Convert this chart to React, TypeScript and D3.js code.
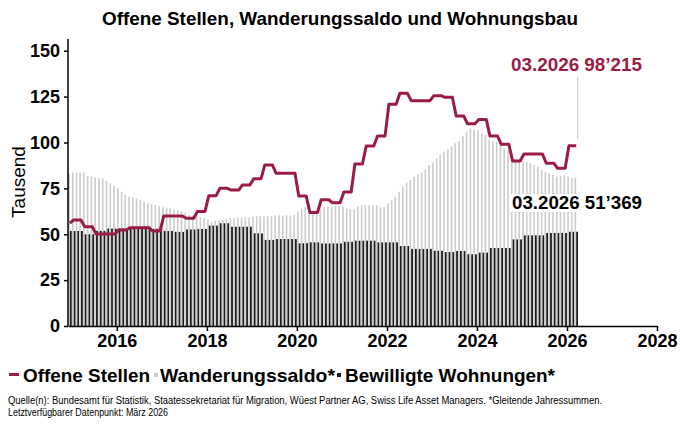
import React, { useEffect, useRef } from 'react';
import * as d3 from 'd3';

// Monatswerte ab Dezember 2014 bis März 2026 (gleitende Jahressummen, in Tausend)
const months = d3.timeMonth.range(new Date(2014, 11, 1), new Date(2026, 3, 1));

const wanderungssaldo = [
    82.8, // Dez 2014
    83.6, 83.7, 83.6, 83.7, 81.7, 81.4, 80.8, 80.6, 80.4, 79.0, 77.7, 76.3, // 2015
    75.0, 73.2, 71.4, 70.5, 70.1, 69.6, 68.7, 67.8, 66.9, 66.3, 66.0, 65.4, // 2016
    64.7, 64.3, 64.1, 63.6, 63.2, 62.7, 61.8, 60.5, 60.0, 59.6, 59.4, 58.9, // 2017
    58.0, 56.9, 57.4, 57.4, 57.7, 58.1, 58.7, 58.7, 59.2, 59.0, 59.2, 59.0, // 2018
    59.6, 59.9, 59.9, 59.6, 59.9, 59.9, 60.3, 60.3, 60.1, 60.3, 60.1, 60.5, // 2019
    62.3, 64.1, 64.7, 62.9, 62.3, 63.2, 63.8, 64.7, 65.0, 65.0, 65.4, 65.4, // 2020
    65.1, 64.2, 63.6, 63.6, 65.4, 65.9, 65.9, 65.8, 65.8, 65.8, 64.7, 64.7, // 2021
    66.8, 68.6, 70.4, 73.2, 75.9, 78.1, 79.6, 81.4, 82.8, 83.6, 85.4, 87.8, // 2022
    89.1, 91.4, 93.2, 95.1, 96.3, 97.8, 99.6, 100.8, 103.6, 105.9, 107.7, 107.2, // 2023
    106.8, 105.0, 104.1, 101.4, 100.8, 100.4, 98.6, 96.8, 95.9, 93.2, 90.8, 90.5, // 2024
    90.1, 89.6, 88.6, 87.7, 86.8, 85.0, 84.1, 83.2, 82.3, 81.4, 81.7, 82.3, // 2025
    81.4, 80.8, 80.8, // 2026
];

const bewilligteWohnungen = [
    51.8,
    51.8, 51.8, 51.8, 50.0, 50.0, 50.0, 51.9, 51.9, 51.9, 53.1, 53.1, 53.1,
    53.3, 53.3, 53.3, 54.1, 54.1, 54.1, 54.1, 54.1, 54.1, 53.0, 53.0, 53.0,
    51.8, 51.8, 51.8, 51.3, 51.3, 51.3, 52.6, 52.6, 52.6, 52.9, 52.9, 52.9,
    54.7, 54.7, 54.7, 56.0, 56.0, 56.0, 54.1, 54.1, 54.1, 54.1, 54.1, 54.1,
    50.5, 50.5, 50.5, 46.9, 46.9, 46.9, 47.4, 47.4, 47.4, 47.4, 47.4, 47.4,
    45.1, 45.1, 45.1, 45.6, 45.6, 45.6, 45.0, 45.0, 45.0, 45.0, 45.0, 45.0,
    45.9, 45.9, 45.9, 46.5, 46.5, 46.5, 46.5, 46.5, 46.5, 45.6, 45.6, 45.6,
    45.6, 45.6, 45.6, 43.6, 43.6, 43.6, 42.0, 42.0, 42.0, 42.0, 42.0, 42.0,
    41.0, 41.0, 41.0, 40.3, 40.3, 40.3, 40.9, 40.9, 40.9, 39.1, 39.1, 39.1,
    40.0, 40.0, 40.0, 42.5, 42.5, 42.5, 42.5, 42.5, 42.5, 47.2, 47.2, 47.2,
    49.4, 49.4, 49.4, 49.4, 49.4, 49.4, 50.7, 50.7, 50.7, 50.7, 50.7, 50.7,
    51.369, 51.369, 51.369,
];

const offeneStellen = [
    56.0,
    57.8, 57.8, 57.8, 54.1, 54.1, 54.1, 50.1, 50.1, 50.1, 50.1, 50.1, 50.1,
    52.3, 52.3, 52.3, 53.6, 53.6, 53.6, 53.6, 53.6, 53.6, 51.8, 51.8, 51.8,
    60.0, 60.0, 60.0, 60.0, 60.0, 60.0, 58.7, 58.7, 58.7, 62.4, 62.4, 62.4,
    71.0, 71.0, 71.0, 75.0, 75.0, 75.0, 74.1, 74.1, 74.1, 76.9, 76.9, 76.9,
    80.3, 80.3, 80.3, 87.8, 87.8, 87.8, 83.2, 83.2, 83.2, 83.2, 83.2, 83.2,
    70.9, 70.9, 70.9, 61.8, 61.8, 61.8, 68.8, 68.8, 68.8, 67.1, 67.1, 67.1,
    73.0, 73.0, 73.0, 88.3, 88.3, 88.3, 98.1, 98.1, 98.1, 103.5, 103.5, 103.5,
    120.8, 120.8, 120.8, 126.8, 126.8, 126.8, 122.8, 122.8, 122.8, 122.8, 122.8, 122.8,
    125.5, 125.5, 125.5, 124.6, 124.6, 124.6, 114.4, 114.4, 114.4, 110.2, 110.2, 110.2,
    112.6, 112.6, 112.6, 103.5, 103.5, 103.5, 99.0, 99.0, 99.0, 89.9, 89.9, 89.9,
    93.7, 93.7, 93.7, 93.7, 93.7, 93.7, 88.7, 88.7, 88.7, 85.9, 85.9, 85.9,
    98.215, 98.215, 98.215,
];

const yearTicks = [2016, 2018, 2020, 2022, 2024, 2026, 2028];
const valueTicks = [0, 25, 50, 75, 100, 125, 150];

const RED = '#9b1c42';
const GREY = '#cccccc';
const BLACK = '#1c1c1c';
const FONT = "'Liberation Sans', Arial, sans-serif";

export default function App() {
    const ref = useRef<SVGSVGElement>(null);

    useEffect(() => {
        const svg = d3.select(ref.current);
        svg.selectAll('*').remove();

        const x = d3.scaleTime()
            .domain([new Date(2014, 11, 1), new Date(2028, 0, 1)])
            .range([68, 657]);
        const y = d3.scaleLinear().domain([0, 156.4]).range([326, 39]);

        // bars: grey (Wanderungssaldo) left, black (Bewilligte Wohnungen) right in each month
        const bars = svg.append('g');
        months.forEach((m, i) => {
            const x0 = x(m);
            const x1 = x(d3.timeMonth.offset(m, 1));
            const w = x1 - x0;
            bars.append('rect')
                .attr('x', x0 + 0.2).attr('width', w * 0.43)
                .attr('y', y(wanderungssaldo[i])).attr('height', y(0) - y(wanderungssaldo[i]))
                .attr('fill', GREY);
            bars.append('rect')
                .attr('x', x0 + w * 0.5).attr('width', w * 0.47)
                .attr('y', y(bewilligteWohnungen[i])).attr('height', y(0) - y(bewilligteWohnungen[i]))
                .attr('fill', BLACK);
        });

        const mid = (m: Date) => (x(m) + x(d3.timeMonth.offset(m, 1))) / 2;
        const last = months.length - 1;

        // label for Bewilligte Wohnungen with white box
        svg.append('rect')
            .attr('x', 509).attr('y', 194).attr('width', 137).attr('height', 18)
            .attr('fill', '#fff');
        svg.append('text')
            .attr('x', 512).attr('y', 209)
            .attr('font-size', 18).attr('font-weight', 'bold').attr('fill', '#000')
            .attr('textLength', 130).attr('lengthAdjust', 'spacingAndGlyphs')
            .text(`03.2026 ${d3.format(',')(Math.round(bewilligteWohnungen[last] * 1000)).replace(',', '’')}`);

        // Offene Stellen line
        const line = d3.line<number>()
            .x((_, i) => mid(months[i]))
            .y((d) => y(d));
        svg.append('path')
            .attr('d', line(offeneStellen))
            .attr('fill', 'none')
            .attr('stroke', RED)
            .attr('stroke-width', 3)
            .attr('stroke-linejoin', 'round');

        // leader + label for last value
        const lx = mid(months[last]) + 1.5;
        svg.append('line')
            .attr('x1', lx).attr('x2', lx)
            .attr('y1', 77).attr('y2', y(offeneStellen[last]) - 7)
            .attr('stroke', '#c4c4c4').attr('stroke-width', 1);
        svg.append('text')
            .attr('x', 511).attr('y', 71)
            .attr('font-size', 18).attr('font-weight', 'bold').attr('fill', RED)
            .attr('textLength', 131).attr('lengthAdjust', 'spacingAndGlyphs')
            .text(`03.2026 ${d3.format(',')(Math.round(offeneStellen[last] * 1000)).replace(',', '’')}`);

        // axes
        const yAxis = svg.append('g')
            .attr('transform', 'translate(68,0)')
            .call(d3.axisLeft(y).tickValues(valueTicks).tickSize(4).tickSizeOuter(0).tickPadding(4));
        const xAxis = svg.append('g')
            .attr('transform', 'translate(0,326)')
            .call(d3.axisBottom(x)
                .tickValues(yearTicks.map((yr) => new Date(yr, 0, 1)))
                .tickFormat((d) => d3.timeFormat('%Y')(d as Date))
                .tickSize(5).tickSizeOuter(0).tickPadding(3));
        [yAxis, xAxis].forEach((g) => {
            g.attr('font-family', null).attr('font-size', 18).attr('font-weight', 'bold');
            g.selectAll('path, line').attr('stroke', '#000').attr('stroke-width', 1.5);
            g.selectAll('text').attr('fill', '#000');
        });
        yAxis.select('.domain').attr('d', `M0,${y.range()[1]}V${y(0)}`);

        svg.append('text')
            .attr('transform', 'translate(25,182) rotate(-90)')
            .attr('text-anchor', 'middle')
            .attr('font-size', 19).attr('fill', '#000')
            .text('Tausend');

        // title
        svg.append('text')
            .attr('x', 102).attr('y', 25)
            .attr('font-size', 18).attr('font-weight', 'bold').attr('fill', '#000')
            .attr('textLength', 476).attr('lengthAdjust', 'spacingAndGlyphs')
            .text('Offene Stellen, Wanderungssaldo und Wohnungsbau');

        // legend
        const legend = svg.append('g').attr('font-size', 18.5).attr('font-weight', 'bold').attr('fill', '#000');
        legend.append('rect').attr('x', 9).attr('y', 373).attr('width', 10).attr('height', 3).attr('fill', RED);
        legend.append('text').attr('x', 23).attr('y', 382)
            .attr('textLength', 127).attr('lengthAdjust', 'spacingAndGlyphs').text('Offene Stellen');
        legend.append('rect').attr('x', 154).attr('y', 373).attr('width', 4).attr('height', 4).attr('fill', GREY);
        legend.append('text').attr('x', 160).attr('y', 382)
            .attr('textLength', 175).attr('lengthAdjust', 'spacingAndGlyphs').text('Wanderungssaldo*');
        legend.append('rect').attr('x', 337).attr('y', 373).attr('width', 4).attr('height', 4).attr('fill', BLACK);
        legend.append('text').attr('x', 345).attr('y', 382)
            .attr('textLength', 210).attr('lengthAdjust', 'spacingAndGlyphs').text('Bewilligte Wohnungen*');

        // footer
        const foot = svg.append('g').attr('font-size', 10).attr('fill', '#000');
        foot.append('text').attr('x', 8).attr('y', 404)
            .attr('textLength', 594).attr('lengthAdjust', 'spacingAndGlyphs')
            .text('Quelle(n): Bundesamt für Statistik, Staatessekretariat für Migration, Wüest Partner AG, Swiss Life Asset Managers. *Gleitende Jahressummen.');
        foot.append('text').attr('x', 8).attr('y', 416)
            .attr('textLength', 160).attr('lengthAdjust', 'spacingAndGlyphs')
            .text('Letztverfügbarer Datenpunkt: März 2026');
    }, []);

    return (
        <svg
            ref={ref}
            width={680}
            height={424}
            fontFamily={FONT}
            style={{ position: 'absolute', left: 0, top: 0, background: '#fff', display: 'block' }}
        />
    );
}
